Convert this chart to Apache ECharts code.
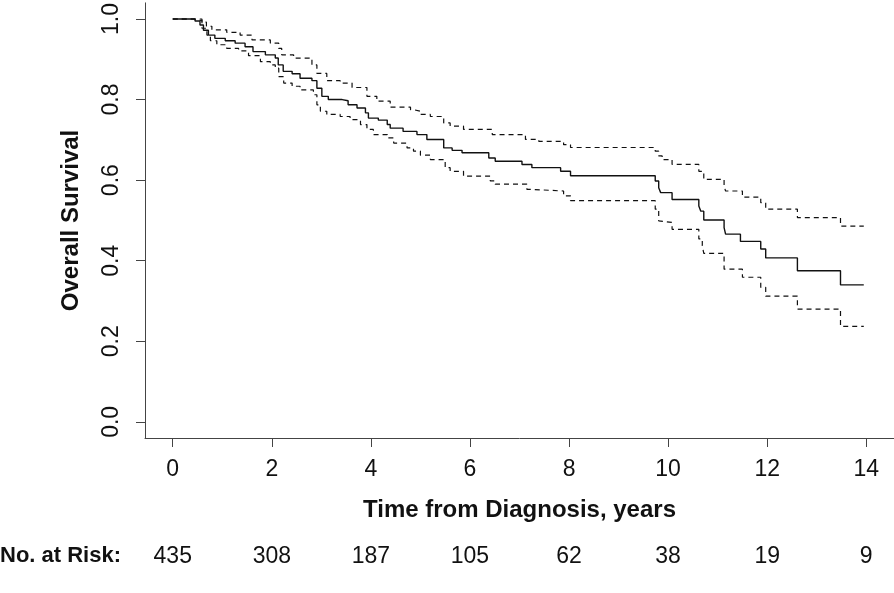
<!DOCTYPE html>
<html>
<head>
<meta charset="utf-8">
<script src="https://cdn.jsdelivr.net/npm/echarts@6/dist/echarts.min.js"></script>
<style>html,body{margin:0;padding:0;background:#fff}#c{width:894px;height:593px}</style>
</head>
<body>
<div id="c"></div>
<script>
// Kaplan-Meier estimate: [time in years, survival]
const survival = [[0,1.0],[0.45,0.995],[0.55,0.985],[0.62,0.972],[0.72,0.960],[0.85,0.952],[1.06,0.946],[1.26,0.940],[1.46,0.931],[1.62,0.919],[1.87,0.911],[2.07,0.903],[2.13,0.886],[2.23,0.870],[2.41,0.864],[2.57,0.853],[2.81,0.847],[2.91,0.828],[3.01,0.808],[3.14,0.800],[3.42,0.797],[3.54,0.787],[3.72,0.779],[3.89,0.767],[3.95,0.754],[4.15,0.749],[4.33,0.738],[4.39,0.729],[4.65,0.721],[4.93,0.713],[5.13,0.701],[5.47,0.680],[5.64,0.674],[5.84,0.668],[6.38,0.655],[6.51,0.647],[7.05,0.639],[7.25,0.631],[7.83,0.622],[8.03,0.611],[9.74,0.598],[9.81,0.581],[9.85,0.569],[10.08,0.552],[10.62,0.536],[10.66,0.523],[10.72,0.501],[11.13,0.482],[11.16,0.466],[11.46,0.448],[11.87,0.429],[11.97,0.407],[12.61,0.375],[13.48,0.340],[13.95,0.340]];
// Upper 95% confidence limit
const upperCI = [[0,1.0],[0.59,0.992],[0.68,0.982],[0.79,0.973],[1.09,0.967],[1.36,0.960],[1.60,0.948],[1.97,0.940],[2.14,0.927],[2.20,0.911],[2.44,0.903],[2.81,0.886],[2.91,0.865],[3.11,0.847],[3.38,0.841],[3.62,0.830],[3.92,0.808],[4.12,0.796],[4.39,0.781],[4.80,0.775],[4.86,0.771],[5.00,0.763],[5.20,0.758],[5.47,0.742],[5.60,0.734],[5.87,0.726],[6.45,0.713],[7.12,0.701],[7.39,0.696],[7.89,0.688],[8.03,0.681],[9.74,0.672],[9.81,0.660],[9.88,0.651],[10.08,0.639],[10.62,0.622],[10.72,0.602],[11.13,0.585],[11.16,0.573],[11.50,0.558],[11.87,0.544],[11.97,0.528],[12.61,0.507],[13.48,0.486],[13.95,0.486]];
// Lower 95% confidence limit
const lowerCI = [[0,1.0],[0.42,0.996],[0.59,0.977],[0.69,0.960],[0.76,0.946],[0.89,0.936],[1.09,0.927],[1.33,0.921],[1.53,0.909],[1.77,0.894],[1.97,0.886],[2.07,0.878],[2.14,0.857],[2.24,0.841],[2.41,0.833],[2.57,0.824],[2.84,0.812],[2.91,0.787],[2.98,0.771],[3.11,0.763],[3.38,0.758],[3.58,0.750],[3.79,0.738],[3.92,0.726],[4.05,0.713],[4.33,0.705],[4.46,0.692],[4.73,0.680],[4.86,0.672],[5.00,0.662],[5.20,0.651],[5.50,0.631],[5.60,0.622],[5.87,0.610],[6.41,0.598],[6.51,0.590],[7.15,0.577],[7.25,0.573],[7.89,0.561],[8.03,0.549],[9.74,0.528],[9.81,0.499],[9.85,0.495],[10.08,0.478],[10.62,0.454],[10.69,0.437],[10.72,0.418],[11.13,0.379],[11.50,0.359],[11.87,0.334],[11.97,0.312],[12.61,0.280],[13.48,0.237],[13.95,0.237]];

const xTicks = [0, 2, 4, 6, 8, 10, 12, 14];
const yTicks = [0, 0.2, 0.4, 0.6, 0.8, 1.0];
const numberAtRisk = [435, 308, 187, 105, 62, 38, 19, 9];

const FONT = 'Liberation Sans, Arial, sans-serif';
const chart = echarts.init(document.getElementById('c'), null, {renderer: 'canvas'});
const axisCol = '#444';
chart.setOption({
  animation: false,
  backgroundColor: '#fff',
  grid: {left: 145, top: 1, width: 749, height: 437, containLabel: false},
  xAxis: [{
    type: 'value', min: -0.56, max: 14.56,
    name: 'Time from Diagnosis, years', nameLocation: 'middle', nameGap: 60,
    nameTextStyle: {fontFamily: FONT, fontSize: 24, fontWeight: 'bold', color: '#111'},
    axisLine: {show: true, onZero: false, lineStyle: {color: axisCol, width: 1}},
    axisTick: {show: true, length: 9, lineStyle: {color: axisCol}, customValues: xTicks},
    axisLabel: {customValues: xTicks, margin: 20, fontFamily: FONT, fontSize: 23, color: '#111'},
    splitLine: {show: false}
  }, {
    type: 'value', min: -0.56, max: 14.56, position: 'bottom', offset: 107,
    axisLine: {show: false, onZero: false}, axisTick: {show: false}, splitLine: {show: false},
    axisLabel: {customValues: xTicks, margin: 0, fontFamily: FONT, fontSize: 23, color: '#111',
      formatter: function (v) { const i = xTicks.indexOf(Math.round(v)); return i >= 0 ? String(numberAtRisk[i]) : ''; }}
  }],
  yAxis: {
    type: 'value', min: -0.04, max: 1.04,
    name: 'Overall Survival', nameLocation: 'middle', nameGap: 62, nameRotate: 90,
    nameTextStyle: {fontFamily: FONT, fontSize: 24, fontWeight: 'bold', color: '#111'},
    axisLine: {show: true, onZero: false, lineStyle: {color: axisCol, width: 1}},
    axisTick: {show: true, length: 9, lineStyle: {color: axisCol}, customValues: yTicks},
    axisLabel: {customValues: yTicks, rotate: 90, margin: 22, fontFamily: FONT, fontSize: 23, color: '#111',
      formatter: function (v) { return v.toFixed(1); }},
    splitLine: {show: false}
  },
  graphic: [{
    type: 'text', left: 0, top: 545,
    style: {text: 'No. at Risk:', fontFamily: FONT, fontSize: 22, fontWeight: 'bold', fill: '#111'}
  }],
  series: [
    {type: 'line', data: survival, step: 'end', symbol: 'none', xAxisIndex: 0,
     lineStyle: {color: '#111', width: 1.4}},
    {type: 'line', data: upperCI, step: 'end', symbol: 'none', xAxisIndex: 0,
     lineStyle: {color: '#111', width: 1.2, type: [5, 4]}},
    {type: 'line', data: lowerCI, step: 'end', symbol: 'none', xAxisIndex: 0,
     lineStyle: {color: '#111', width: 1.2, type: [5, 4]}}
  ]
});
</script>
</body>
</html>
